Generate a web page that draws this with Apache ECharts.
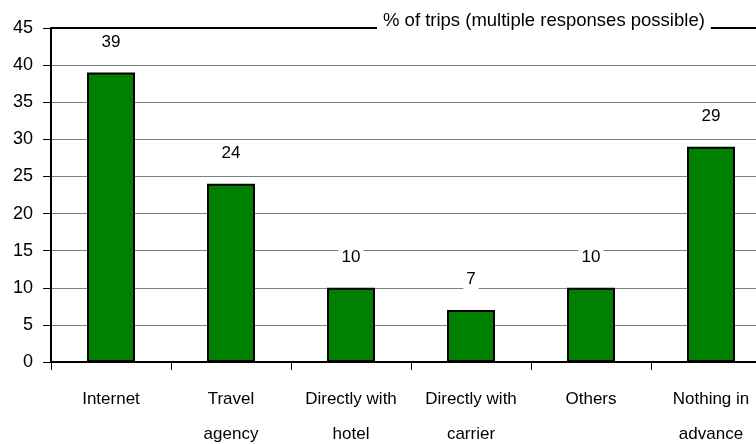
<!DOCTYPE html>
<html>
<head>
<meta charset="utf-8">
<script src="https://cdn.jsdelivr.net/npm/echarts@6/dist/echarts.min.js"></script>
<style>
  html, body { margin: 0; padding: 0; background: #fff; overflow: hidden; }
  #chart { width: 756px; height: 444px; overflow: hidden; }
</style>
</head>
<body>
<div id="chart"></div>
<script>
// Booking channels, % of trips (multiple responses possible)
const categories = ['Internet', 'Travel\nagency', 'Directly with\nhotel', 'Directly with\ncarrier', 'Others', 'Nothing in\nadvance'];
const tripShares = [39, 24, 10, 7, 10, 29];
const yTicks = { min: 0, max: 45, interval: 5 };
const titleText = '% of trips (multiple responses possible)';

const font = 'Liberation Sans, Arial, sans-serif';
const chart = echarts.init(document.getElementById('chart'), null, { renderer: 'canvas', width: 756, height: 444 });

chart.setOption({
  backgroundColor: '#fff',
  animation: false,
  title: {
    text: titleText,
    left: 377,
    top: 11,
    padding: [0, 6],
    backgroundColor: '#fff',
    textStyle: { fontFamily: font, fontSize: 18.5, fontWeight: 'normal', color: '#000', lineHeight: 20 }
  },
  grid: { left: 51, top: 28, width: 720, height: 334, containLabel: false, outerBoundsMode: 'none' },
  xAxis: {
    type: 'category',
    data: categories,
    boundaryGap: true,
    axisLine: { lineStyle: { color: '#000', width: 2 } },
    axisTick: { show: true, interval: 0, length: 8, lineStyle: { color: '#000', width: 1 } },
    axisLabel: {
      interval: 0, margin: 20, fontFamily: font, fontSize: 17, color: '#000', lineHeight: 35
    },
    splitLine: { show: false }
  },
  yAxis: {
    type: 'value',
    min: yTicks.min, max: yTicks.max, interval: yTicks.interval,
    axisLine: { show: true, lineStyle: { color: '#000', width: 2 } },
    axisTick: { show: true, length: 8, lineStyle: { color: '#000', width: 1 } },
    axisLabel: { margin: 18, fontFamily: font, fontSize: 18, color: '#000' },
    splitLine: { show: true, lineStyle: { color: '#808080', width: 1 } }
  },
  series: [{
    type: 'bar',
    data: tripShares,
    barWidth: 48,
    itemStyle: { color: '#008000', borderColor: '#000', borderWidth: 2 },
    label: {
      show: true,
      position: 'top',
      distance: 20,
      fontFamily: font,
      fontSize: 17,
      color: '#000',
      backgroundColor: '#fff',
      padding: [2, 3]
    },
    markLine: {
      silent: true,
      symbol: 'none',
      label: { show: false },
      lineStyle: { color: '#000', width: 2, type: 'solid' },
      data: [{ yAxis: yTicks.max }]
    }
  }]
});
</script>
</body>
</html>
